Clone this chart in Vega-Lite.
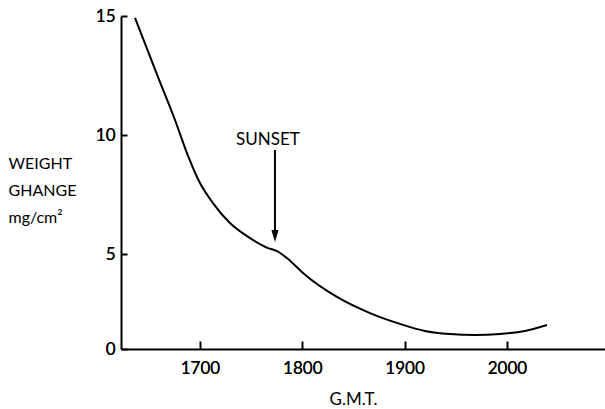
{
  "$schema": "https://vega.github.io/schema/vega-lite/v6.json",
  "width": 484,
  "height": 333,
  "autosize": {"type": "none"},
  "padding": {"left": 121, "top": 16, "right": 0, "bottom": 60},
  "background": "white",
  "config": {
    "view": {"stroke": null},
    "font": "Lato",
    "axis": {
      "domainColor": "black",
      "domainWidth": 2,
      "ticks": true,
      "tickColor": "black",
      "tickWidth": 2,
      "tickOpacity": 1,
      "labelColor": "black",
      "titleColor": "black",
      "labelFont": "Lato",
      "titleFont": "Lato",
      "labelFontSize": 17,
      "titleFontSize": 17,
      "titleFontWeight": "normal",
      "grid": false
    }
  },
  "datasets": {
    "curve": [
      {"hour": 16.365, "w": 14.92},
      {"hour": 16.589, "w": 12.44},
      {"hour": 16.756, "w": 10.63},
      {"hour": 16.873, "w": 9.24},
      {"hour": 17.0, "w": 7.98},
      {"hour": 17.127, "w": 7.14},
      {"hour": 17.293, "w": 6.30},
      {"hour": 17.489, "w": 5.67},
      {"hour": 17.665, "w": 5.25},
      {"hour": 17.753, "w": 5.12},
      {"hour": 17.880, "w": 4.65},
      {"hour": 18.007, "w": 4.0},
      {"hour": 18.339, "w": 2.74},
      {"hour": 18.662, "w": 1.89},
      {"hour": 18.955, "w": 1.32},
      {"hour": 19.199, "w": 0.95},
      {"hour": 19.443, "w": 0.79},
      {"hour": 19.688, "w": 0.74},
      {"hour": 19.933, "w": 0.79},
      {"hour": 20.177, "w": 0.95},
      {"hour": 20.392, "w": 1.26}
    ],
    "sunset": [
      {"label": "SUNSET", "hour": 17.733, "textHour": 17.665, "textW": 9.58, "top": 9.37, "head": 5.76}
    ]
  },
  "resolve": {"axis": {"x": "independent", "y": "independent"}},
  "layer": [
    {
      "data": {"name": "curve"},
      "mark": {"type": "line", "color": "black", "strokeWidth": 2, "interpolate": "monotone"},
      "encoding": {
        "x": {
          "field": "hour", "type": "quantitative",
          "scale": {"domain": [16.228, 20.959], "nice": false, "zero": false},
          "axis": {
            "orient": "bottom",
            "values": [17, 18, 19, 20],
            "labelExpr": "format(datum.value*100,'d')",
            "ticks": false,
            "labelPadding": 11,
            "title": "G.M.T.",
            "titleX": 232,
            "titleY": 55,
            "titleAlign": "center",
            "titleBaseline": "alphabetic"
          }
        },
        "y": {
          "field": "w", "type": "quantitative",
          "scale": {"domain": [0, 5, 10, 15], "range": [333, 238, 119, 0], "nice": false, "zero": false},
          "axis": {
            "orient": "left",
            "values": [0, 5, 10, 15],
            "ticks": false,
            "labelPadding": 6,
            "title": ["WEIGHT", "GHANGE", "mg/cm²"],
            "titleAngle": 0,
            "titleAlign": "left",
            "titleBaseline": "top",
            "titleX": -113,
            "titleY": 139,
            "titleLineHeight": 27,
            "titleFontSize": 16
          }
        }
      }
    },
    {
      "data": {"name": "sunset"},
      "mark": {"type": "rule", "color": "black", "strokeWidth": 2},
      "encoding": {
        "x": {
          "field": "hour", "type": "quantitative",
          "axis": {"orient": "bottom", "offset": -8, "values": [17, 18, 19, 20], "labelExpr": "format(datum.value*100,'d')", "labelPadding": 11, "domain": false, "ticks": true, "tickSize": 8, "title": null}
        },
        "y": {
          "field": "top", "type": "quantitative",
          "axis": {"orient": "left", "offset": -6, "values": [0, 5, 10, 15], "labelPadding": 6, "domain": false, "ticks": true, "tickSize": 6, "title": null}
        },
        "y2": {"field": "head"}
      }
    },
    {
      "data": {"name": "sunset"},
      "mark": {"type": "point", "shape": "M-0.6,-1 L0.6,-1 L0,1 Z", "filled": true, "color": "black", "size": 144, "opacity": 1},
      "encoding": {
        "x": {"field": "hour", "type": "quantitative", "axis": null},
        "y": {"field": "head", "type": "quantitative", "axis": null}
      }
    },
    {
      "data": {"name": "sunset"},
      "mark": {"type": "text", "color": "black", "fontSize": 17, "font": "Lato", "align": "center", "baseline": "alphabetic"},
      "encoding": {
        "x": {"field": "textHour", "type": "quantitative", "axis": null},
        "y": {"field": "textW", "type": "quantitative", "axis": null},
        "text": {"field": "label"}
      }
    }
  ]
}
